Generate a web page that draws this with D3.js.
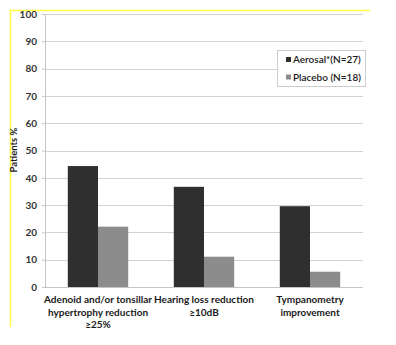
<!DOCTYPE html>
<html><head><meta charset="utf-8">
<script src="https://cdn.jsdelivr.net/npm/d3@7"></script>
<style>body{margin:0;background:#fff}svg{display:block}text{font-family:Lato,"Open Sans",sans-serif;fill:#1a1a1a}</style>
</head><body><svg id="c" width="396" height="345"></svg>
<script>
const categories = [["Adenoid and/or tonsillar","hypertrophy reduction","≥25%"],["Hearing loss reduction","≥10dB"],["Tympanometry","improvement"]];
const seriesNames = ["Aerosal*(N=27)","Placebo (N=18)"];
const aerosal = [44.3, 36.7, 29.6];
const placebo = [22.1, 11.1, 5.6];
const yTicks = [0,10,20,30,40,50,60,70,80,90,100];
const colors = ["#2f2f2f","#8c8c8c"];

const svg = d3.select("#c");
const L=45, R=363, T=14, B=287;
const x = d3.scaleBand().domain(d3.range(categories.length)).range([L,R]).paddingInner(0.43).paddingOuter(0.215);
const xs = d3.scaleBand().domain([0,1]).range([0,x.bandwidth()]);
const y = d3.scaleLinear().domain([0,100]).range([B,T]);

// yellow frame
svg.append("line").attr("x1",10.5).attr("x2",10.5).attr("y1",10).attr("y2",327).attr("stroke","#ffff44").attr("stroke-width",1.5);
svg.append("line").attr("x1",10).attr("x2",370).attr("y1",10.5).attr("y2",10.5).attr("stroke","#ffff44").attr("stroke-width",1.5);

// grid
svg.append("g").selectAll("line").data(yTicks).join("line")
 .attr("x1",L).attr("x2",R).attr("y1",d=>Math.round(y(d))+0.5).attr("y2",d=>Math.round(y(d))+0.5)
 .attr("stroke","#d2d2d2").attr("stroke-width",1);

// y axis
const ya = svg.append("g").attr("transform",`translate(${L},0)`).call(d3.axisLeft(y).tickValues(yTicks).tickSize(3).tickPadding(5));
ya.select(".domain").attr("stroke","#c4c4c4");
ya.selectAll(".tick line").attr("stroke","#c4c4c4");
ya.selectAll("text").style("font-size","10px").style("font-weight","700").style("fill","#333").style("font-family","Lato");

svg.append("text").attr("transform","translate(17,150) rotate(-90)").attr("text-anchor","middle")
 .style("font-size","9.5px").style("font-weight","700").text("Patients %");

// bars
const series=[aerosal,placebo];
series.forEach((vals,si)=>{
  svg.append("g").selectAll("rect").data(vals).join("rect")
   .attr("x",(d,i)=>x(i)+xs(si)).attr("width",xs.bandwidth())
   .attr("y",d=>y(d)).attr("height",d=>B-y(d)).attr("fill",colors[si]);
});

// x axis line
svg.append("line").attr("x1",L).attr("x2",R).attr("y1",B+0.5).attr("y2",B+0.5).attr("stroke","#c4c4c4");

// x labels
const xl = svg.append("g");
categories.forEach((lines,i)=>{
  const t = xl.append("text").attr("x",x(i)+x.bandwidth()/2).attr("y",303).attr("text-anchor","middle")
   .style("font-size","10px").style("font-weight","700");
  lines.forEach((s,k)=>t.append("tspan").attr("x",x(i)+x.bandwidth()/2).attr("dy",k?12.5:0).text(s));
});

// legend
const lg = svg.append("g");
lg.append("rect").attr("x",277.5).attr("y",50.5).attr("width",88).attr("height",36).attr("fill","#fff").attr("stroke","#ccc");
seriesNames.forEach((n,i)=>{
  const yy = 62.5+i*17.5;
  lg.append("rect").attr("x",286).attr("y",yy-5.5).attr("width",5).attr("height",5).attr("fill",colors[i]);
  lg.append("text").attr("x",293).attr("y",yy+0.5).style("font-size","10px").style("font-weight","600").text(n);
});
</script></body></html>
